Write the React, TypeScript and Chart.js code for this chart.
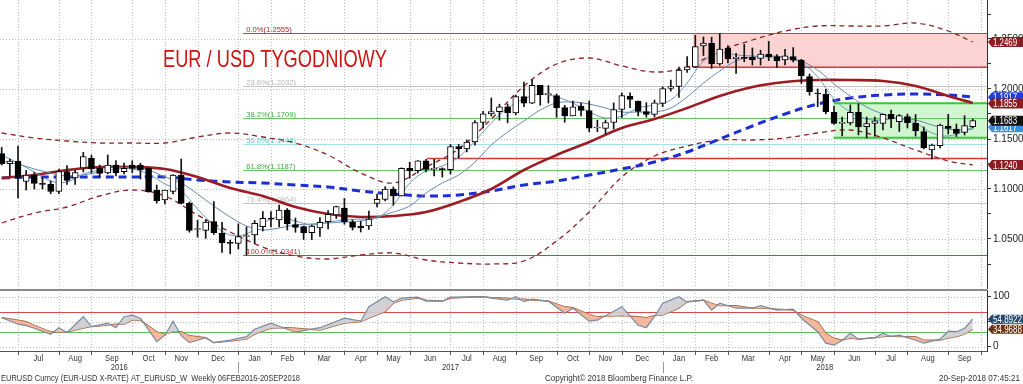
import React, { useEffect, useRef } from 'react';
import { Chart, registerables } from 'chart.js';
Chart.register(...registerables);

// ---------- DATA ----------
// weekly candles, week 0 = 10 Jun 2016 ... week 119 = 21 Sep 2018
const opens = [1.1353,1.1253,1.1278,1.1075,1.1140,1.1055,1.1047,1.0976,1.1175,1.1112,1.1210,1.1310,1.1207,1.1160,1.1240,1.1173,1.1240,1.1240,1.1207,1.0990,1.0890,1.0977,1.1140,1.0857,1.0595,1.0587,1.0673,1.0557,1.0460,1.0457,1.0525,1.0540,1.0623,1.0707,1.0690,1.0790,1.0645,1.0623,1.0563,1.0610,1.0673,1.0740,1.0810,1.0667,1.0628,1.0630,1.0855,1.0897,1.0998,1.0931,1.1206,1.1183,1.1282,1.1196,1.1197,1.1194,1.1424,1.1400,1.1470,1.1665,1.1751,1.1773,1.1821,1.1761,1.1924,1.1859,1.2036,1.1944,1.1935,1.1814,1.1732,1.1830,1.1785,1.1610,1.1607,1.1665,1.1795,1.1930,1.1880,1.1773,1.1747,1.1857,1.2007,1.2025,1.2190,1.2222,1.2430,1.2457,1.2250,1.2407,1.2302,1.2317,1.2317,1.2307,1.2350,1.2323,1.2290,1.2323,1.2288,1.2123,1.1960,1.1950,1.1767,1.1657,1.1660,1.1767,1.1623,1.1657,1.1657,1.1747,1.1673,1.1723,1.1657,1.1573,1.1390,1.1433,1.1630,1.1600,1.1567,1.1623];
const highs = [1.1416,1.1298,1.1428,1.1186,1.1165,1.1120,1.1080,1.1198,1.1234,1.1187,1.1366,1.1340,1.1240,1.1340,1.1284,1.1258,1.1283,1.1258,1.1210,1.1039,1.0990,1.1145,1.1300,1.0870,1.0688,1.0695,1.0874,1.0667,1.0488,1.0652,1.0621,1.0685,1.0775,1.0775,1.0838,1.0805,1.0710,1.0630,1.0640,1.0715,1.0785,1.0829,1.0906,1.0690,1.0678,1.0778,1.0950,1.1023,1.1021,1.1212,1.1268,1.1285,1.1296,1.1296,1.1212,1.1445,1.1446,1.1490,1.1683,1.1777,1.1910,1.1848,1.1850,1.1940,1.2070,1.2092,1.2037,1.2034,1.1950,1.1837,1.1880,1.1860,1.1880,1.1689,1.1690,1.1861,1.1961,1.1961,1.1880,1.1863,1.1889,1.2022,1.2089,1.2218,1.2323,1.2537,1.2520,1.2518,1.2555,1.2435,1.2356,1.2446,1.2410,1.2388,1.2476,1.2345,1.2396,1.2414,1.2297,1.2150,1.2000,1.1997,1.1830,1.1720,1.1840,1.1852,1.1720,1.1720,1.1750,1.1790,1.1745,1.1750,1.1745,1.1620,1.1450,1.1650,1.1747,1.1650,1.1733,1.1700];
const lows = [1.1240,1.1131,1.0912,1.0990,1.1000,1.1000,1.0952,1.0953,1.1045,1.1046,1.1170,1.1160,1.1123,1.1150,1.1130,1.1150,1.1162,1.1100,1.0967,1.0858,1.0851,1.0950,1.0850,1.0568,1.0518,1.0506,1.0547,1.0366,1.0352,1.0400,1.0341,1.0453,1.0580,1.0620,1.0620,1.0590,1.0567,1.0495,1.0494,1.0525,1.0600,1.0705,1.0648,1.0590,1.0570,1.0596,1.0820,1.0881,1.0839,1.0930,1.1109,1.1160,1.1170,1.1132,1.1119,1.1150,1.1313,1.1371,1.1438,1.1612,1.1730,1.1688,1.1662,1.1741,1.1823,1.1853,1.1838,1.1860,1.1717,1.1668,1.1730,1.1730,1.1573,1.1574,1.1553,1.1600,1.1715,1.1813,1.1730,1.1718,1.1721,1.1823,1.1980,1.1916,1.2166,1.2215,1.2335,1.2206,1.2235,1.2260,1.2155,1.2272,1.2240,1.2240,1.2283,1.2216,1.2240,1.2270,1.2055,1.1938,1.1823,1.1750,1.1645,1.1530,1.1640,1.1541,1.1508,1.1528,1.1590,1.1613,1.1575,1.1610,1.1530,1.1400,1.1301,1.1410,1.1550,1.1526,1.1540,1.1610];
const closes = [1.1253,1.1278,1.1116,1.1140,1.1055,1.1047,1.0976,1.1175,1.1087,1.1165,1.1325,1.1200,1.1157,1.1240,1.1160,1.1207,1.1207,1.1190,1.0973,1.0883,1.0990,1.1140,1.0857,1.0587,1.0597,1.0670,1.0563,1.0463,1.0457,1.0523,1.0530,1.0657,1.0707,1.0698,1.0790,1.0650,1.0615,1.0563,1.0630,1.0667,1.0747,1.0823,1.0670,1.0617,1.0612,1.0700,1.0897,1.0998,1.0931,1.1206,1.1183,1.1282,1.1196,1.1197,1.1194,1.1424,1.1400,1.1470,1.1665,1.1751,1.1773,1.1821,1.1761,1.1924,1.1859,1.2036,1.1944,1.1949,1.1814,1.1732,1.1822,1.1785,1.1608,1.1620,1.1665,1.1795,1.1933,1.1896,1.1775,1.1747,1.1862,1.2005,1.2025,1.2190,1.2222,1.2423,1.2460,1.2250,1.2400,1.2300,1.2320,1.2307,1.2290,1.2350,1.2323,1.2281,1.2331,1.2288,1.2133,1.1973,1.1950,1.1773,1.1657,1.1660,1.1767,1.1620,1.1655,1.1682,1.1747,1.1700,1.1733,1.1663,1.1580,1.1413,1.1440,1.1640,1.1607,1.1557,1.1633,1.1683];

// studies (week index -> value)
const maIdx = [0,4,8,12,16,20,24,28,32,36,40,44,48,52,56,60,64,68,72,76,80,84,88,92,96,100,104,108,112,116,119];
const bandMid = [1.111,1.114,1.119,1.122,1.122,1.120,1.112,1.101,1.093,1.082,1.075,1.072,1.073,1.077,1.087,1.100,1.119,1.134,1.147,1.161,1.170,1.181,1.193,1.202,1.207,1.209,1.209,1.208,1.203,1.193,1.186];
const longMa = [1.111,1.112,1.112,1.112,1.112,1.112,1.109,1.107,1.106,1.104,1.102,1.098,1.095,1.093,1.094,1.098,1.104,1.108,1.114,1.120,1.127,1.137,1.150,1.163,1.175,1.185,1.191,1.194,1.195,1.194,1.192];
const bandUpper = [1.156,1.151,1.148,1.146,1.146,1.146,1.152,1.156,1.152,1.146,1.134,1.116,1.106,1.122,1.140,1.170,1.203,1.225,1.231,1.223,1.217,1.222,1.238,1.249,1.258,1.263,1.263,1.263,1.266,1.258,1.247];
const bandLower = [1.066,1.076,1.082,1.093,1.099,1.093,1.074,1.057,1.042,1.033,1.030,1.034,1.036,1.029,1.026,1.025,1.028,1.048,1.077,1.112,1.133,1.143,1.149,1.149,1.151,1.156,1.159,1.151,1.139,1.128,1.124];
const thinIdx = [0,2,4,6,8,10,12,14,16,18,20,22,24,26,28,30,32,34,36,38,40,42,44,46,48,50,52,54,56,58,60,62,64,66,68,70,72,74,76,78,80,82,84,86,88,90,92,94,96,98,100,102,104,106,108,110,112,114,116,118,119];
const fastMa = [1.134,1.126,1.117,1.108,1.107,1.115,1.119,1.122,1.120,1.115,1.105,1.098,1.080,1.064,1.054,1.055,1.066,1.072,1.068,1.064,1.067,1.069,1.070,1.071,1.084,1.106,1.118,1.123,1.132,1.148,1.166,1.181,1.190,1.195,1.192,1.186,1.177,1.171,1.173,1.181,1.184,1.189,1.206,1.228,1.236,1.234,1.233,1.232,1.231,1.226,1.212,1.190,1.177,1.170,1.169,1.171,1.166,1.156,1.153,1.158,1.162];
const slowMa = [1.128,1.125,1.120,1.116,1.113,1.114,1.117,1.120,1.121,1.119,1.112,1.106,1.095,1.083,1.072,1.063,1.059,1.061,1.064,1.065,1.066,1.067,1.068,1.072,1.077,1.083,1.096,1.106,1.114,1.127,1.144,1.157,1.168,1.179,1.186,1.187,1.185,1.181,1.177,1.177,1.177,1.181,1.192,1.206,1.218,1.228,1.232,1.233,1.232,1.228,1.219,1.205,1.193,1.182,1.175,1.170,1.169,1.164,1.160,1.159,1.160];

// lower panel oscillator
const oscIdx = [0,2,3,4,6,7,8,10,11,13,14,15,16,17,19,20,21,22,23,25,26,28,30,31,33,35,36,39,42,44,45,47,48,49,51,52,54,55,59,60,62,63,64,65,67,69,70,72,73,76,78,79,80,81,83,84,86,87,88,90,92,93,95,97,98,100,101,102,103,104,105,107,108,109,110,112,113,115,116,117,118,119];
const oscFast = [58,45,42,37,25,38,28,60,40,47,38,60,63,57,10,23,51,22,8,18,8,13,20,35,47,35,29,38,57,51,80,100,90,97,99,91,91,99,100,97,93,100,90,95,91,67,77,51,53,80,43,38,60,87,100,89,93,73,87,77,77,82,73,75,57,30,7,3,13,27,15,18,27,20,23,13,7,15,31,30,37,55];
const oscSlow = [58,53,50,43,30,29,29,37,40,43,45,45,53,53,30,25,30,30,22,18,8,11,15,25,37,38,37,33,47,50,57,70,87,93,97,93,91,97,100,98,97,95,95,93,91,80,78,65,60,62,60,58,62,63,77,90,93,87,82,82,77,77,75,73,63,50,27,17,13,17,15,18,20,21,20,20,13,13,17,20,25,35];
const oscLevels = [70, 30];

// Fibonacci retracement 1.2555 -> 1.0341
const fibPct = ['0.0%','23.6%','38.2%','50.0%','61.8%','76.4%','100.0%'];
const fibValues = [1.2555,1.2032,1.1709,1.1448,1.1187,1.0864,1.0341];
const fibFromWeek = 29.6;
const supportLevel = [1.1305];
const supportFromWeek = 52.1;
const pinkZone = [84.7, 1.2217, 1.2555];
const greenZone = [101.95, 1.1513, 1.1857];

// axis ticks: week index of month boundaries and month names
const monthTickWeek = [2,7,11,16,20,24,29,33,37,42,46,50,55,59,63,68,72,76,81,85,89,94,98,102,107,111,116,120];
const monthNames = ['Jul','Aug','Sep','Oct','Nov','Dec','Jan','Feb','Mar','Apr','May','Jun','Jul','Aug','Sep','Oct','Nov','Dec','Jan','Feb','Mar','Apr','May','Jun','Jul','Aug','Sep'];
const yearNames = ['2016','2017','2018'];
const yearBounds = [-0.2, 29, 81, 120.75];
const priceGrid = [1.05,1.10,1.15,1.20,1.25];

const lastLabelsTop = [
  { v: 1.2469, t: '1.2469', c: '#8a1c22' },
  { v: 1.1917, t: '1.1917', c: '#1f3fd8' },
  { v: 1.1855, t: '1.1855', c: '#8a1c22' },
  { v: 1.1617, t: '1.1617', c: '#3a8ee0' },
  { v: 1.1683, t: '1.1683', c: '#111111' },
  { v: 1.1240, t: '1.1240', c: '#8a1c22' },
];
const lastLabelsBottom = [
  { v: 54.8922, t: '54.8922', c: '#24496e' },
  { v: 34.9688, t: '34.9688', c: '#6a300f' },
];

const titleText = 'EUR / USD TYGODNIOWY';
const footerLeft = 'EURUSD Curncy (EUR-USD X-RATE) AT_EURUSD_W  Weekly 06FEB2016-20SEP2018';
const footerMid = 'Copyright\u00A9 2018 Bloomberg Finance L.P.';
const footerRight = '20-Sep-2018 07:45:21';

// ---------- helpers ----------
const FONT = '"Liberation Sans", Arial, sans-serif';
const X_MIN = -0.208;
const X_MAX = 120.75;

function textScaled(ctx: any, text: string, x: number, y: number, font: string, color: string, sx: number, align = 'left') {
  ctx.save();
  ctx.font = font;
  ctx.fillStyle = color;
  ctx.textBaseline = 'alphabetic';
  const w = ctx.measureText(text).width * sx;
  let x0 = x;
  if (align === 'center') x0 = x - w / 2;
  if (align === 'right') x0 = x - w;
  ctx.translate(x0, y);
  ctx.scale(sx, 1);
  ctx.fillText(text, 0, 0);
  ctx.restore();
}
function textFit(ctx: any, text: string, x: number, y: number, font: string, color: string, width: number, align = 'left') {
  ctx.save();
  ctx.font = font;
  const w = ctx.measureText(text).width;
  ctx.restore();
  textScaled(ctx, text, x, y, font, color, width / w, align);
}
function hline(ctx: any, x0: number, x1: number, y: number) {
  ctx.beginPath();
  ctx.moveTo(x0, y);
  ctx.lineTo(x1, y);
  ctx.stroke();
}
function vline(ctx: any, x: number, y0: number, y1: number) {
  ctx.beginPath();
  ctx.moveTo(x, y0);
  ctx.lineTo(x, y1);
  ctx.stroke();
}
function valueBox(ctx: any, y: number, text: string, bg: string, h: number, tw: number) {
  const x0 = 988, x1 = 1023;
  ctx.fillStyle = bg;
  ctx.beginPath();
  ctx.moveTo(x0, y);
  ctx.lineTo(x0 + 4, y - h / 2);
  ctx.lineTo(x1, y - h / 2);
  ctx.lineTo(x1, y + h / 2);
  ctx.lineTo(x0 + 4, y + h / 2);
  ctx.closePath();
  ctx.fill();
  textFit(ctx, text, x0 + 5, y + 3.6, `10px ${FONT}`, '#ffffff', tw);
}

const pts = (idx: number[], vals: number[]) => idx.map((i, k) => ({ x: i, y: vals[k] }));

const yAfterFit = (s: any) => {
  s.width = 36;
  s.paddingTop = 0;
  s.paddingBottom = 0;
};

// ---------- plugins ----------
const topOverlay = {
  id: 'topOverlay',
  beforeDatasetsDraw(chart: any) {
    const { ctx, chartArea: a, scales } = chart;
    const x = scales.x, y = scales.y;
    const px = (v: number) => x.getPixelForValue(v);
    const py = (v: number) => y.getPixelForValue(v);
    ctx.save();
    ctx.beginPath();
    ctx.rect(a.left, a.top, a.right - a.left, a.bottom - a.top);
    ctx.clip();
    // dotted grid
    ctx.strokeStyle = '#bdbdbd';
    ctx.lineWidth = 1;
    ctx.setLineDash([1, 2]);
    monthTickWeek.forEach((w) => vline(ctx, Math.round(px(w)) + 0.5, a.top, a.bottom));
    priceGrid.forEach((v) => hline(ctx, a.left, a.right, Math.round(py(v)) + 0.5));
    ctx.setLineDash([]);
    // pink zone
    {
      const x0 = px(pinkZone[0]);
      const yTop = py(pinkZone[2]), yBot = py(pinkZone[1]);
      ctx.fillStyle = '#fbd3d3';
      ctx.fillRect(x0, yTop, a.right - x0, yBot - yTop);
      ctx.strokeStyle = '#d23a3a';
      ctx.lineWidth = 1.5;
      hline(ctx, x0, a.right, yBot);
    }
    // green zone
    {
      const x0 = px(greenZone[0]);
      const yTop = py(greenZone[2]), yBot = py(greenZone[1]);
      ctx.fillStyle = '#cff6cf';
      ctx.fillRect(x0, yTop, a.right - x0, yBot - yTop);
      ctx.strokeStyle = '#35c935';
      ctx.lineWidth = 2;
      hline(ctx, x0, a.right, yTop);
      hline(ctx, x0, a.right, yBot);
    }
    // support line
    ctx.strokeStyle = '#d23a3a';
    ctx.lineWidth = 1.5;
    supportLevel.forEach((v) => hline(ctx, px(supportFromWeek), a.right, py(v)));
    // fibonacci
    const fibLine = ['#d23a44', '#c4c4c4', '#66c466', '#a6dfe9', '#66c466', '#c4c4c4', '#d23a44'];
    const fibText = ['#a42a2a', '#b4b4b4', '#43a843', '#63c3d3', '#43a843', '#b9b9b9', '#b83232'];
    fibValues.forEach((v, k) => {
      const yy = Math.round(py(v)) + 0.5;
      ctx.strokeStyle = fibLine[k];
      ctx.lineWidth = 1;
      hline(ctx, px(fibFromWeek), a.right, yy);
      textScaled(ctx, `${fibPct[k]}(${v.toFixed(4)})`, px(fibFromWeek) + 3, yy - 1.5, `8px ${FONT}`, fibText[k], 0.95);
    });
    // title
    textFit(ctx, titleText, 163, 67, `24px ${FONT}`, '#d01212', 224);
    ctx.restore();
  },
  afterDraw(chart: any) {
    const { ctx, scales } = chart;
    ctx.save();
    lastLabelsTop.forEach((l) => valueBox(ctx, scales.y.getPixelForValue(l.v), l.t, l.c, 10, 24));
    ctx.restore();
  },
};

const bottomOverlay = {
  id: 'bottomOverlay',
  beforeDatasetsDraw(chart: any) {
    const { ctx, chartArea: a, scales } = chart;
    const x = scales.x, y = scales.y;
    const px = (v: number) => x.getPixelForValue(v);
    const py = (v: number) => y.getPixelForValue(v);
    ctx.save();
    ctx.beginPath();
    ctx.rect(a.left, a.top, a.right - a.left, a.bottom - a.top);
    ctx.clip();
    ctx.strokeStyle = '#bdbdbd';
    ctx.lineWidth = 1;
    ctx.setLineDash([1, 2]);
    monthTickWeek.forEach((w) => vline(ctx, Math.round(px(w)) + 0.5, a.top, a.bottom));
    [0, 50, 100].forEach((v) => hline(ctx, a.left, a.right, Math.round(py(v)) + 0.5));
    ctx.setLineDash([]);
    const lvlColors = ['#d84a4a', '#5cc25c'];
    oscLevels.forEach((v, k) => {
      ctx.strokeStyle = lvlColors[k];
      hline(ctx, a.left, a.right, Math.round(py(v)) + 0.5);
    });
    ctx.restore();
  },
  afterDraw(chart: any) {
    const { ctx, chartArea: a, scales } = chart;
    const x = scales.x, y = scales.y;
    const px = (v: number) => x.getPixelForValue(v);
    ctx.save();
    // panel separator
    ctx.fillStyle = '#8a8a8a';
    ctx.fillRect(0, 0, a.right, 2);
    // bottom axis line and ticks
    ctx.strokeStyle = '#555';
    ctx.lineWidth = 1;
    hline(ctx, 0, a.right, a.bottom + 0.5);
    monthTickWeek.forEach((w) => {
      const xx = Math.round(px(w)) + 0.5;
      if (xx < a.right) vline(ctx, xx, a.bottom, a.bottom + 4);
    });
    // month labels
    monthNames.forEach((m, k) => {
      const c = px((monthTickWeek[k] + monthTickWeek[k + 1]) / 2);
      textScaled(ctx, m, c, a.bottom + 10, `9px ${FONT}`, '#333', 0.85, 'center');
    });
    // years
    yearNames.forEach((yn, k) => {
      const c = px((yearBounds[k] + yearBounds[k + 1]) / 2);
      textScaled(ctx, yn, c, a.bottom + 19, `9px ${FONT}`, '#333', 0.85, 'center');
    });
    ctx.strokeStyle = '#999';
    [yearBounds[1], yearBounds[2]].forEach((w) => vline(ctx, Math.round(px(w)) + 0.5, a.bottom + 11, a.bottom + 22));
    // footer
    textFit(ctx, footerLeft, 1, a.bottom + 30, `9px ${FONT}`, '#333', 299);
    textFit(ctx, footerMid, 545, a.bottom + 30, `9px ${FONT}`, '#333', 148);
    textFit(ctx, footerRight, 1020, a.bottom + 30, `9px ${FONT}`, '#333', 81, 'right');
    // value boxes
    lastLabelsBottom.forEach((l) => valueBox(ctx, y.getPixelForValue(l.v), l.t, l.c, 9, 29));
    ctx.restore();
  },
};

// ---------- charts ----------
function topConfig(): any {
  const bodies = closes.map((c, i) => ({ x: i, y: [opens[i], c] }));
  const wicks = closes.map((_, i) => ({ x: i, y: [lows[i], highs[i]] }));
  const line = (data: any[], color: string, width: number, dash: number[], order: number) => ({
    type: 'line',
    data,
    borderColor: color,
    borderWidth: width,
    borderDash: dash,
    pointRadius: 0,
    tension: 0.35,
    fill: false,
    order,
  });
  return {
    type: 'bar',
    data: {
      datasets: [
        {
          type: 'bar',
          data: bodies,
          backgroundColor: closes.map((c, i) => (c >= opens[i] ? '#ffffff' : '#000000')),
          borderColor: '#000000',
          borderWidth: 1,
          borderSkipped: false,
          barThickness: 6,
          minBarLength: 1,
          grouped: false,
          order: 1,
        },
        {
          type: 'bar',
          data: wicks,
          backgroundColor: '#111111',
          borderWidth: 0,
          barThickness: 1,
          grouped: false,
          order: 2,
        },
        line(pts(thinIdx, fastMa), '#7196bb', 1, [], 3),
        line(pts(thinIdx, slowMa), '#6688ad', 1, [], 4),
        line(pts(maIdx, bandMid), '#9c1c22', 2.6, [], 5),
        line(pts(maIdx, longMa), '#1b2fd4', 3, [8, 5], 6),
        line(pts(maIdx, bandUpper), '#8a2323', 1.3, [5, 4], 7),
        line(pts(maIdx, bandLower), '#8a2323', 1.3, [5, 4], 8),
      ],
    },
    options: {
      responsive: false,
      animation: false,
      layout: { padding: { left: 0, right: 0, top: 0, bottom: 1 } },
      plugins: { legend: { display: false }, tooltip: { enabled: false } },
      scales: {
        x: { type: 'linear', display: false, min: X_MIN, max: X_MAX, offset: false },
        y: {
          position: 'right',
          min: 1.001,
          max: 1.289,
          afterFit: yAfterFit,
          grid: { drawOnChartArea: false, drawTicks: true, tickLength: 4, tickColor: '#333' },
          border: { display: true, color: '#333', width: 1 },
          ticks: {
            stepSize: 0.025,
            includeBounds: false,
            padding: 2,
            color: '#222',
            font: { size: 10, family: FONT },
            callback: (v: number) => (Math.abs(v * 20 - Math.round(v * 20)) < 1e-6 ? v.toFixed(4) : ''),
          },
        },
      },
    },
    plugins: [topOverlay],
  };
}

function bottomConfig(): any {
  return {
    type: 'line',
    data: {
      datasets: [
        {
          data: pts(oscIdx, oscFast),
          borderColor: '#7a8ba0',
          borderWidth: 1.2,
          pointRadius: 0,
          tension: 0,
          fill: { target: 1, above: 'rgba(204,204,210,0.9)', below: 'rgba(245,172,140,0.85)' },
        },
        {
          data: pts(oscIdx, oscSlow),
          borderColor: '#a0603c',
          borderWidth: 1.2,
          pointRadius: 0,
          tension: 0,
          fill: false,
        },
      ],
    },
    options: {
      responsive: false,
      animation: false,
      layout: { padding: { left: 0, right: 0, top: 1, bottom: 33 } },
      plugins: { legend: { display: false }, tooltip: { enabled: false } },
      scales: {
        x: { type: 'linear', display: false, min: X_MIN, max: X_MAX, offset: false },
        y: {
          position: 'right',
          min: -8.6,
          max: 113.4,
          afterFit: yAfterFit,
          grid: { drawOnChartArea: false, drawTicks: true, tickLength: 4, tickColor: '#333' },
          border: { display: true, color: '#333', width: 1 },
          ticks: {
            stepSize: 50,
            includeBounds: false,
            padding: 2,
            color: '#222',
            font: { size: 10, family: FONT },
            callback: (v: number) => String(Math.round(v)),
          },
        },
      },
    },
    plugins: [bottomOverlay],
  };
}

export default function App() {
  const topRef = useRef<HTMLCanvasElement>(null);
  const botRef = useRef<HTMLCanvasElement>(null);
  useEffect(() => {
    document.body.style.margin = '0';
    const c1 = new Chart(topRef.current as HTMLCanvasElement, topConfig());
    const c2 = new Chart(botRef.current as HTMLCanvasElement, bottomConfig());
    return () => {
      c1.destroy();
      c2.destroy();
    };
  }, []);
  return (
    <div style={{ position: 'absolute', left: 0, top: 0, width: 1023, height: 384, background: '#ffffff', overflow: 'hidden' }}>
      <canvas ref={topRef} width={1023} height={289} style={{ position: 'absolute', left: 0, top: 0 }} />
      <canvas ref={botRef} width={1023} height={95} style={{ position: 'absolute', left: 0, top: 289 }} />
    </div>
  );
}
